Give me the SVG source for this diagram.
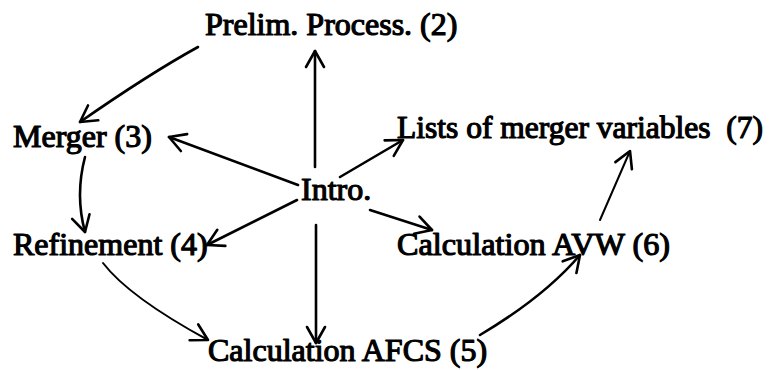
<svg xmlns="http://www.w3.org/2000/svg" width="780" height="370" viewBox="0 0 780 370">
<style>
.t{font-family:"Liberation Serif","Times New Roman",serif;font-weight:normal;font-size:32px;fill:#000;stroke:#000;stroke-width:1.2;stroke-linejoin:round}
.c{fill:none;stroke:#000;stroke-width:2.6;stroke-linecap:round}
.h{fill:none;stroke:#000;stroke-width:2.6;stroke-linecap:round;stroke-linejoin:round}
</style>
<defs>
<marker id="a" markerUnits="userSpaceOnUse" markerWidth="40" markerHeight="40" refX="0" refY="0" viewBox="-20 -20 40 40" orient="auto" overflow="visible">
<path class="h" d="M-16,-9 L0,0 L-16,9"/>
</marker>
</defs>
<rect width="780" height="370" fill="#fff"/>
<g id="connectors">
<path class="c" d="M198,47 Q149,74 80,122" marker-end="url(#a)"/>
<path class="c" d="M315,167 L315,51" marker-end="url(#a)"/>
<path class="c" d="M298,185 L169,137" marker-end="url(#a)"/>
<path class="c" d="M340,177 L403,140" marker-end="url(#a)"/>
<path class="c" d="M85,157 Q75,195 85,232" marker-end="url(#a)"/>
<path class="c" d="M297,200 L207,245" marker-end="url(#a)"/>
<path class="c" d="M316,225 L316,343" marker-end="url(#a)"/>
<path class="c" d="M370,210 L432,230" marker-end="url(#a)"/>
<path class="c" d="M103,263 Q129,297 208,340" marker-end="url(#a)" style="stroke-width:2"/>
<path class="c" d="M480,335 Q544,297 580,255" marker-end="url(#a)"/>
<path class="c" d="M600,220 Q614,188 630,151" marker-end="url(#a)" style="stroke-width:2"/>
</g>
<g id="n2"><text class="t" x="205" y="35">Prelim. Process. (2)</text></g>
<g id="n3"><text class="t" x="13" y="147">Merger (3)</text></g>
<g id="n1"><text class="t" x="301" y="200">Intro.</text></g>
<g id="n7"><text class="t" x="397" y="138" textLength="366" lengthAdjust="spacingAndGlyphs">Lists of merger variables &#160;(7)</text></g>
<g id="n4"><text class="t" x="13" y="255">Refinement (4)</text></g>
<g id="n6"><text class="t" x="397" y="255" textLength="273" lengthAdjust="spacingAndGlyphs">Calculation AVW (6)</text></g>
<g id="n5"><text class="t" x="208" y="361">Calculation AFCS (5)</text></g>
</svg>
